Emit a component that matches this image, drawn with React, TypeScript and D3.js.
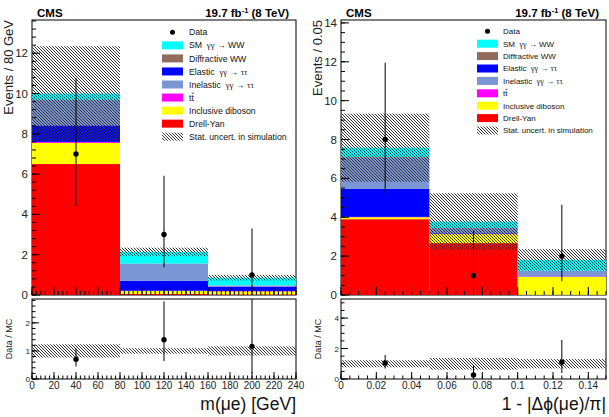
import * as d3 from "d3";

// m(mu e) distribution, bins of 80 GeV
const massBins = [0, 80, 160, 240];
const massDrellYan = [6.5, 0.05, 0.03];
const massDiboson = [1.05, 0.15, 0.15];
const massTTbar = [0.05, 0.01, 0.02];
const massElastic = [0.82, 0.5, 0.22];
const massInelastic = [1.26, 0.83, 0.05];
const massDiffractive = [0.02, 0.02, 0.01];
const massSMWW = [0.3, 0.58, 0.38];
const massUnc = [2.35, 0.21, 0.14];
const massData = [7, 3, 1];
const massErrLow = [4.42, 1.37, 0.17];
const massErrHigh = [10.77, 5.92, 3.3];
const massXTicks = [0, 20, 40, 60, 80, 100, 120, 140, 160, 180, 200, 220, 240];
const massYTicks = [0, 2, 4, 6, 8, 10, 12];
const massRatioTicks = [0, 1, 2];

// 1 - |dphi(mu e)/pi|, bins of 0.05
const dphiBins = [0, 0.05, 0.1, 0.15];
const dphiDrellYan = [3.9, 2.67, 0.01];
const dphiDiboson = [0.1, 0.46, 0.93];
const dphiTTbar = [0.02, 0.02, 0.02];
const dphiElastic = [1.44, 0.03, 0.01];
const dphiInelastic = [1.62, 0.26, 0.27];
const dphiDiffractive = [0.02, 0.01, 0.01];
const dphiSMWW = [0.48, 0.33, 0.56];
const dphiUnc = [1.75, 1.45, 0.55];
const dphiData = [8, 1, 2];
const dphiErrLow = [5.23, 0.17, 0.71];
const dphiErrHigh = [11.95, 3.3, 4.64];
const dphiXTicks = [0, 0.02, 0.04, 0.06, 0.08, 0.1, 0.12, 0.14];
const dphiYTicks = [0, 2, 4, 6, 8, 10, 12, 14];
const dphiRatioTicks = [0, 2, 4];

const processKeys = ["dy", "diboson", "tt", "elastic", "inelastic", "diffractive", "ww"];
const processColors: Record<string, string> = {
  dy: "#ff0000",
  diboson: "#ffff00",
  tt: "#ff00ff",
  elastic: "#0000ff",
  inelastic: "#7a96d4",
  diffractive: "#916b5c",
  ww: "#00ffff",
};
const legendKeys = ["data", "ww", "diffractive", "elastic", "inelastic", "tt", "diboson", "dy", "unc"];
const legendLabels = [
  "Data",
  "SM  γγ → WW",
  "Diffractive WW",
  "Elastic  γγ → ττ",
  "Inelastic  γγ → ττ",
  "tt",
  "Inclusive diboson",
  "Drell-Yan",
  "Stat. uncert. in simulation",
];

const FONT = "'Liberation Sans', Arial, sans-serif";
const TOP_Y0 = 295;
const TOP_Y1 = 20;
const R_Y0 = 379;
const R_Y1 = 299;

function LegendLabel({ text }: { text: string }) {
  const parts = text.split(/([γτ]+)/).filter((s) => s.length);
  return (
    <>
      {parts.map((s, i) =>
        /[γτ]/.test(s) ? (
          <tspan key={i} fontFamily="'Liberation Serif', serif">
            {s}
          </tspan>
        ) : (
          <tspan key={i} style={{ whiteSpace: "pre" }}>
            {s}
          </tspan>
        )
      )}
    </>
  );
}

function Panel(p: any) {
  const x = d3.scaleLinear().domain([p.bins[0], p.bins[p.bins.length - 1]]).range([p.left, p.right]);
  const y = d3.scaleLinear().domain([0, p.yMax]).range([TOP_Y0, TOP_Y1]);
  const yr = d3.scaleLinear().domain([0, p.rMax]).range([R_Y0, R_Y1]);

  const rows = p.data.map((_: number, i: number) => {
    const r: any = { i };
    processKeys.forEach((k) => (r[k] = p.series[k][i]));
    return r;
  });
  const stacked = d3.stack<any>().keys(processKeys)(rows);
  const totals = rows.map((r: any) => d3.sum(processKeys, (k) => r[k]));
  const centers = p.data.map((_: number, i: number) => (p.bins[i] + p.bins[i + 1]) / 2);

  const xMinor = d3.range(p.bins[0], p.bins[p.bins.length - 1] + p.xMinorStep / 2, p.xMinorStep);
  const yMinor = d3.range(0, p.yMax, p.yMinorStep);
  const rMinor = d3.range(0, p.rMax, p.rMinorStep);

  const legX = p.legSwatch;
  const tW = p.legFont * 0.278;
  return (
    <g fontFamily={FONT}>
      <defs>
        <clipPath id={p.id + "top"}>
          <rect x={p.left} y={TOP_Y1} width={p.right - p.left} height={TOP_Y0 - TOP_Y1} />
        </clipPath>
        <clipPath id={p.id + "rat"}>
          <rect x={p.left} y={R_Y1} width={p.right - p.left} height={R_Y0 - R_Y1} />
        </clipPath>
      </defs>

      {/* top frame */}
      <rect x={p.left} y={TOP_Y1} width={p.right - p.left} height={TOP_Y0 - TOP_Y1} fill="white" stroke="black" strokeWidth={1} />

      {stacked.map((layer: any) => (
        <g key={layer.key} fill={processColors[layer.key]}>
          {layer.map((d: any, i: number) => (
            <rect
              key={i}
              x={x(p.bins[i])}
              width={x(p.bins[i + 1]) - x(p.bins[i])}
              y={y(d[1])}
              height={Math.max(0, y(d[0]) - y(d[1]))}
            />
          ))}
        </g>
      ))}
      {totals.map((t: number, i: number) => (
        <rect
          key={"u" + i}
          x={x(p.bins[i])}
          width={x(p.bins[i + 1]) - x(p.bins[i])}
          y={y(t + p.unc[i])}
          height={y(Math.max(0, t - p.unc[i])) - y(t + p.unc[i])}
          fill="url(#hatch)"
        />
      ))}

      <g clipPath={`url(#${p.id}top)`}>
        {p.data.map((v: number, i: number) => (
          <g key={i}>
            <line x1={x(centers[i])} x2={x(centers[i])} y1={y(p.errLow[i])} y2={y(p.errHigh[i])} stroke="black" strokeWidth={1} />
            <circle cx={x(centers[i])} cy={y(v)} r={2.7} fill="black" />
          </g>
        ))}
      </g>

      {/* top ticks */}
      <g stroke="black" strokeWidth={1}>
        {yMinor.map((v: number) => (
          <line key={"ym" + v} x1={p.left} x2={p.left + 4} y1={y(v)} y2={y(v)} />
        ))}
        {p.yTicks.map((v: number) => (
          <line key={"yM" + v} x1={p.left} x2={p.left + 8} y1={y(v)} y2={y(v)} />
        ))}
        {xMinor.map((v: number) => (
          <line key={"xm" + v} x1={x(v)} x2={x(v)} y1={TOP_Y0} y2={TOP_Y0 - 4} />
        ))}
        {p.xTicks.map((v: number) => (
          <line key={"xM" + v} x1={x(v)} x2={x(v)} y1={TOP_Y0} y2={TOP_Y0 - 8} />
        ))}
      </g>
      <g fontSize={11.5} fill="#222" textAnchor="end">
        {p.yTicks.map((v: number) => (
          <text key={v} x={p.left - 4} y={y(v) + 4}>
            {v}
          </text>
        ))}
      </g>
      <text transform={`translate(${p.left - 19},${TOP_Y1}) rotate(-90)`} textAnchor="end" fontSize={13} fill="#222">
        {p.yTitle}
      </text>

      {/* CMS + lumi */}
      <text x={p.left + 5} y={17} fontSize={11.5} fontWeight="bold">
        CMS
      </text>
      <text x={p.right - 7} y={17} fontSize={11.5} fontWeight="bold" textAnchor="end">
        19.7 fb<tspan dy={-4} fontSize={7.5}>-1</tspan>
        <tspan dy={4}> (8 TeV)</tspan>
      </text>

      {/* legend */}
      <g fontSize={p.legFont} fill="#111">
        {legendKeys.map((k, i) => {
          const cy = p.legY0 + i * p.legStep;
          return (
            <g key={k}>
              {k === "data" ? (
                <circle cx={(legX[0] + legX[1]) / 2} cy={cy} r={2.5} fill="black" />
              ) : (
                <rect
                  x={legX[0]}
                  y={cy - 4}
                  width={legX[1] - legX[0]}
                  height={8}
                  fill={k === "unc" ? "url(#hatch)" : processColors[k]}
                />
              )}
              <text x={p.legText} y={cy + p.legFont * 0.36}>
                <LegendLabel text={legendLabels[i]} />
              </text>
              {k === "tt" && (
                <line
                  x1={p.legText + tW + 0.3}
                  x2={p.legText + 2 * tW}
                  y1={cy - p.legFont * 0.5}
                  y2={cy - p.legFont * 0.5}
                  stroke="#111"
                  strokeWidth={0.8}
                />
              )}
            </g>
          );
        })}
      </g>

      {/* ratio panel */}
      <rect x={p.left} y={R_Y1} width={p.right - p.left} height={R_Y0 - R_Y1} fill="white" stroke="black" strokeWidth={1} />
      {totals.map((t: number, i: number) => (
        <rect
          key={"ru" + i}
          x={x(p.bins[i])}
          width={x(p.bins[i + 1]) - x(p.bins[i])}
          y={yr(1 + p.unc[i] / t)}
          height={yr(1 - p.unc[i] / t) - yr(1 + p.unc[i] / t)}
          fill="url(#hatch)"
        />
      ))}
      <g clipPath={`url(#${p.id}rat)`}>
        {p.data.map((v: number, i: number) => (
          <g key={i}>
            <line
              x1={x(centers[i])}
              x2={x(centers[i])}
              y1={yr(p.errLow[i] / totals[i])}
              y2={yr(p.errHigh[i] / totals[i])}
              stroke="black"
              strokeWidth={1}
            />
            <circle cx={x(centers[i])} cy={yr(v / totals[i])} r={2.7} fill="black" />
          </g>
        ))}
      </g>
      <g stroke="black" strokeWidth={1}>
        {rMinor.map((v: number) => (
          <line key={"rm" + v} x1={p.left} x2={p.left + 3.5} y1={yr(v)} y2={yr(v)} />
        ))}
        {p.rTicks.map((v: number) => (
          <line key={"rM" + v} x1={p.left} x2={p.left + 7} y1={yr(v)} y2={yr(v)} />
        ))}
        {xMinor.map((v: number) => (
          <line key={"rxm" + v} x1={x(v)} x2={x(v)} y1={R_Y0} y2={R_Y0 - 3.5} />
        ))}
        {p.xTicks.map((v: number) => (
          <line key={"rxM" + v} x1={x(v)} x2={x(v)} y1={R_Y0} y2={R_Y0 - 7} />
        ))}
      </g>
      <g fontSize={8} fill="#222" textAnchor="end">
        {p.rTicks.map((v: number) => (
          <text key={v} x={p.left - 2} y={yr(v) + 3}>
            {v}
          </text>
        ))}
      </g>
      <text transform={`translate(${p.left - 20},${(R_Y0 + R_Y1) / 2}) rotate(-90)`} textAnchor="middle" fontSize={9} fill="#222">
        Data / MC
      </text>
      <g fontSize={10} fill="#222" textAnchor="middle">
        {p.xTicks.map((v: number) => (
          <text key={v} x={x(v)} y={389}>
            {v}
          </text>
        ))}
      </g>
      <text x={p.right} y={410} textAnchor="end" fontSize={17.5} fill="#111">
        {p.xTitle}
      </text>
    </g>
  );
}

export default function App() {
  return (
    <svg width={609} height={417} style={{ position: "absolute", left: 0, top: 0, background: "white" }}>
      <defs>
        <pattern id="hatch" patternUnits="userSpaceOnUse" width={3} height={3}>
          <path d="M-1,-1 L4,4 M-1,2 L1,4 M2,-1 L4,1" stroke="#333" strokeWidth={1} />
        </pattern>
      </defs>
      <rect width={609} height={417} fill="white" />
      <Panel
        id="mass"
        left={32}
        right={296}
        bins={massBins}
        series={{
          dy: massDrellYan,
          diboson: massDiboson,
          tt: massTTbar,
          elastic: massElastic,
          inelastic: massInelastic,
          diffractive: massDiffractive,
          ww: massSMWW,
        }}
        unc={massUnc}
        data={massData}
        errLow={massErrLow}
        errHigh={massErrHigh}
        yMax={13.65}
        rMax={2.85}
        yTicks={massYTicks}
        yMinorStep={0.4}
        rTicks={massRatioTicks}
        rMinorStep={0.2}
        xTicks={massXTicks}
        xMinorStep={4}
        yTitle="Events / 80 GeV"
        xTitle="m(μe) [GeV]"
        legSwatch={[162, 183]}
        legText={189}
        legY0={32.3}
        legStep={13.05}
        legFont={8.7}
      />
      <Panel
        id="dphi"
        left={341}
        right={606}
        bins={dphiBins}
        series={{
          dy: dphiDrellYan,
          diboson: dphiDiboson,
          tt: dphiTTbar,
          elastic: dphiElastic,
          inelastic: dphiInelastic,
          diffractive: dphiDiffractive,
          ww: dphiSMWW,
        }}
        unc={dphiUnc}
        data={dphiData}
        errLow={dphiErrLow}
        errHigh={dphiErrHigh}
        yMax={14.15}
        rMax={5.25}
        yTicks={dphiYTicks}
        yMinorStep={0.5}
        rTicks={dphiRatioTicks}
        rMinorStep={0.5}
        xTicks={dphiXTicks}
        xMinorStep={0.005}
        yTitle="Events / 0.05"
        xTitle="1 - |Δϕ(μe)/π|"
        legSwatch={[477, 498]}
        legText={503}
        legY0={31.3}
        legStep={12.4}
        legFont={8}
      />
    </svg>
  );
}
